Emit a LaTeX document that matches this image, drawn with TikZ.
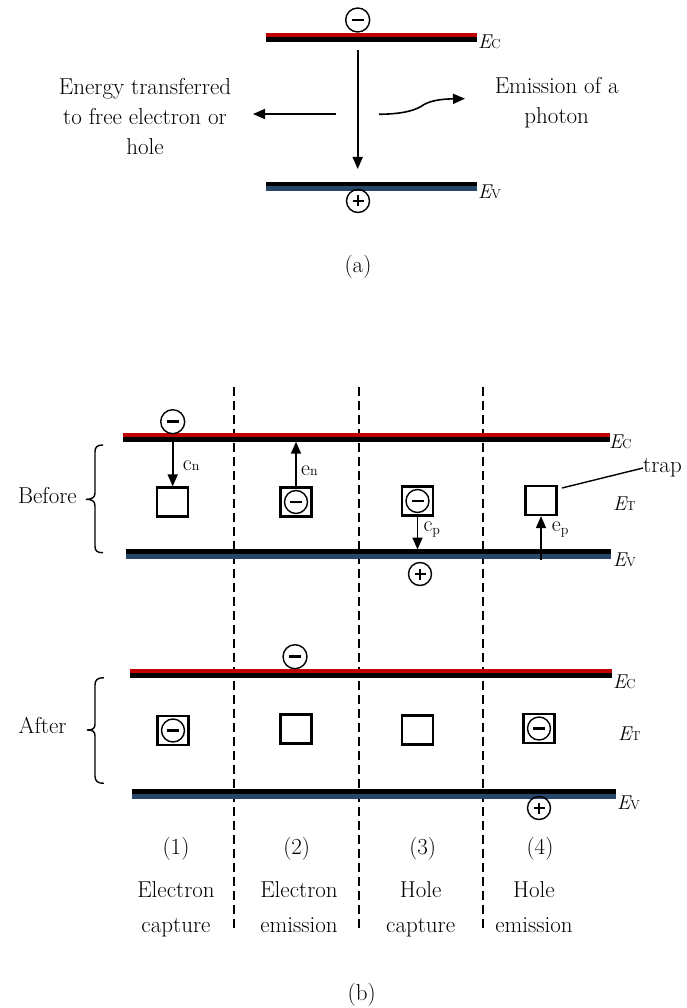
\documentclass[tikz,border=0pt]{standalone}
\usepackage{fontspec}
\usetikzlibrary{arrows.meta}
\definecolor{bandred}{RGB}{192,0,0}
\definecolor{bandblue}{RGB}{40,70,105}
\newcommand{\lev}[1]{{\fontsize{20}{20}\selectfont\itshape E}{\fontsize{13}{13}\selectfont #1}}
\newcommand{\rate}[2]{{\fontsize{22}{22}\selectfont #1}{\fontsize{14}{14}\selectfont #2}}
\begin{document}
\begin{tikzpicture}[x=1pt,y=-1pt,
  txt/.style={font=\fontsize{23}{28}\selectfont, inner sep=0, anchor=base},
  lvl/.style={inner sep=0, anchor=base west},
  rlbl/.style={inner sep=0, anchor=base west},
  elec/.style={circle,draw,line width=1.4pt,minimum size=24pt,inner sep=0,
    path picture={\draw[line width=2.7pt] ([xshift=-6pt]path picture bounding box.center) -- ([xshift=6pt]path picture bounding box.center);}},
  holec/.style={circle,draw,line width=1.4pt,minimum size=23pt,inner sep=0,
    path picture={\draw[line width=2.5pt] ([xshift=-5.5pt]path picture bounding box.center) -- ([xshift=5.5pt]path picture bounding box.center);
                  \draw[line width=2.5pt] ([yshift=-5.5pt]path picture bounding box.center) -- ([yshift=5.5pt]path picture bounding box.center);}},
  trapbox/.style={rectangle,draw,line width=2.3pt,minimum width=31pt,minimum height=29pt,inner sep=0},
  arr/.style={line width=1.6pt,-{Triangle[length=12pt,width=10pt]}},
  sepline/.style={line width=1.5pt, dash pattern=on 9pt off 5pt},
  redband/.style={bandred,line width=4pt},
  blackband/.style={black,line width=4.5pt},
  blueband/.style={bandblue,line width=4.5pt},
  bracep/.style={line width=1.4pt}
]
\useasboundingbox (0,0) rectangle (686,1008);

% ---------------- (a) ----------------
\draw[redband] (266,35) -- (477,35);
\draw[blackband] (266,39.5) -- (477,39.5);
\draw[blackband] (266,184) -- (477,184);
\draw[blueband] (266,188.3) -- (477,188.3);
\node[lvl] (aEc) at (478,48.5) {\lev{C}};
\node[lvl] (aEv) at (478,199) {\lev{V}};
\node[elec] (ae) at (357.7,20) {};
\node[holec] (ah) at (358,201) {};
\coordinate (aTop) at (357.7,50);
\coordinate (aBot) at (357.7,169);
\draw[arr] (aTop) -- (aBot);
\coordinate (aL1) at (336,114);
\coordinate (aL2) at (253,114);
\draw[arr] (aL1) -- (aL2);
\coordinate (aR1) at (379,114.3);
\coordinate (aR2) at (465,98.7);
\draw[arr] (aR1) .. controls (400,114) and (412,111.5) .. (421,106.5) .. controls (428,101) and (440,99) .. (aR2);
\node[txt] (lt1) at (145,95) {Energy transferred};
\node[txt] (lt2) at (145,125) {to free electron or};
\node[txt] (lt3) at (145,155) {hole};
\node[txt] (rt1) at (556.7,93.3) {Emission of a};
\node[txt] (rt2) at (556.7,123.3) {photon};
\node[txt] (capa) at (358,272) {(a)};

% ---------------- (b) separators ----------------
\foreach \x/\n in {234/s1,359/s2,483/s3}{
  \coordinate (\n t) at (\x,387);
  \coordinate (\n b) at (\x,930);
  \draw[sepline] (\n t) -- (\n b);
}

% ---------------- (b) before ----------------
\draw[redband] (123,434.7) -- (610,434.7);
\draw[blackband] (123,439.3) -- (610,439.3);
\draw[blackband] (125.7,551.7) -- (611,551.7);
\draw[blueband] (125.7,556.3) -- (611,556.3);
\node[lvl] (bEc) at (609,448.3) {\lev{C}};
\node[lvl] (bEt) at (613,510.5) {\lev{T}};
\node[lvl] (bEv) at (613,566.5) {\lev{V}};

\node[elec] (be1) at (172.7,421.7) {};
\node[trapbox] (bt1) at (172.7,502) {};
\coordinate (bc1) at (172.7,442);
\draw[arr] (bc1) -- (bt1.north);
\node[rlbl] (lcn) at (182.7,470) {\rate{c}{n}};

\node[trapbox] (bt2) at (296,502) {};
\node[elec,minimum size=23pt] (be2) at (bt2.center) {};
\coordinate (bc2) at (296,441.7);
\draw[arr] (bt2.north) -- (bc2);
\node[rlbl] (len) at (301,475) {\rate{e}{n}};

\node[trapbox] (bt3) at (417.5,501) {};
\node[elec,minimum size=23pt] (be3) at (bt3.center) {};
\coordinate (bv3) at (417.5,549.5);
\draw[arr] (bt3.south) -- (bv3);
\node[rlbl] (lcp) at (423.3,531.7) {\rate{c}{\raisebox{-3pt}{p}}};
\node[holec] (bh3) at (420,574) {};

\node[trapbox] (bt4) at (541,500.5) {};
\coordinate (bv4) at (541,560);
\draw[arr] (bv4) -- (bt4.south);
\node[rlbl] (lep) at (551.7,531.7) {\rate{e}{\raisebox{-3pt}{p}}};
\node[inner sep=0,anchor=west,font=\fontsize{23}{28}\selectfont] (trap) at (643,468) {trap};
\coordinate (trapst) at (562,488);
\draw[line width=1.4pt] (trapst) -- (trap.west);

\draw[bracep] (103,445) .. controls (97,445) and (95,447) .. (95,452) -- (95,493)
  .. controls (95,497.5) and (92,499.3) .. (86,499.3)
  .. controls (92,499.3) and (95,501) .. (95,506) -- (95,546)
  .. controls (95,551) and (97,552.7) .. (103,552.7);
\node[txt,anchor=base east] (before) at (77,503.3) {Before};

% ---------------- (b) after ----------------
\draw[redband] (130,671.3) -- (612.3,671.3);
\draw[blackband] (130,675.6) -- (612.3,675.6);
\draw[blackband] (131.7,791.7) -- (616,791.7);
\draw[blueband] (131.7,796.4) -- (616,796.4);
\node[lvl] (cEc) at (613,688) {\lev{C}};
\node[lvl] (cEt) at (618,740) {\lev{T}};
\node[lvl] (cEv) at (617,809) {\lev{V}};

\node[elec] (ce0) at (295,656.7) {};
\node[trapbox] (ct1) at (173,730.5) {};
\node[elec,minimum size=23pt] (ce1) at (ct1.center) {};
\node[trapbox] (ct2) at (296,729) {};
\node[trapbox] (ct3) at (417.5,730) {};
\node[trapbox] (ct4) at (539,728.5) {};
\node[elec,minimum size=23pt] (ce4) at (ct4.center) {};
\node[holec] (ch4) at (539,808) {};

\draw[bracep] (104,677.7) .. controls (98,677.7) and (95,679.5) .. (95,685) -- (95,724)
  .. controls (95,728.5) and (93,730) .. (87,730)
  .. controls (93,730) and (95,731.5) .. (95,736) -- (95,776)
  .. controls (95,781.5) and (98,783.3) .. (104,783.3);
\node[txt,anchor=base east] (after) at (66.7,733.3) {After};

% ---------------- (b) captions ----------------
\node[txt] (n1) at (176,854) {(1)};
\node[txt] (n2) at (296.7,854) {(2)};
\node[txt] (n3) at (422.7,854) {(3)};
\node[txt] (n4) at (540,854) {(4)};
\node[txt] (d1a) at (176,897.3) {Electron};
\node[txt] (d1b) at (176,932) {capture};
\node[txt] (d2a) at (299,897.3) {Electron};
\node[txt] (d2b) at (299,932) {emission};
\node[txt] (d3a) at (420.7,897.3) {Hole};
\node[txt] (d3b) at (420.7,932) {capture};
\node[txt] (d4a) at (534,897.3) {Hole};
\node[txt] (d4b) at (534,932) {emission};
\node[txt] (capb) at (361.7,1000) {(b)};
\end{tikzpicture}
\end{document}
